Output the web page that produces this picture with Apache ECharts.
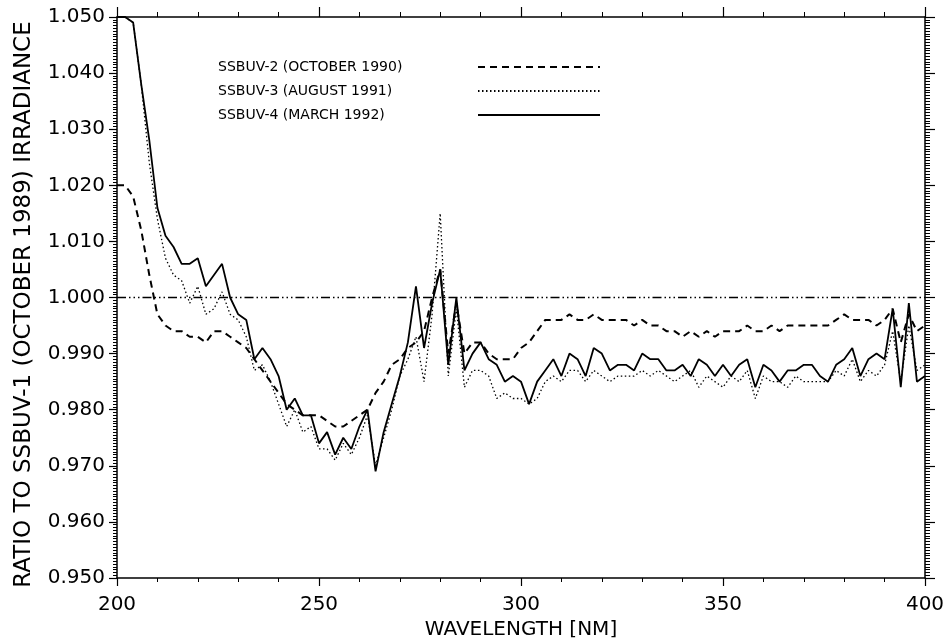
<!DOCTYPE html>
<html>
<head>
<meta charset="utf-8">
<script src="https://cdn.jsdelivr.net/npm/echarts@6/dist/echarts.min.js"></script>
<style>
  html, body { margin: 0; padding: 0; background: #fff; }
  #chart { width: 947px; height: 640px; }
</style>
</head>
<body>
<div id="chart"></div>
<script>
(function() {
// wavelength grid [nm]
const wavelengths = [
  200,202,204,206,208,210,212,214,216,218,220,222,224,226,228,230,232,234,236,238,
  240,242,244,246,248,250,252,254,256,258,260,262,264,266,268,270,272,274,276,278,
  280,282,284,286,288,290,292,294,296,298,300,302,304,306,308,310,312,314,316,318,
  320,322,324,326,328,330,332,334,336,338,340,342,344,346,348,350,352,354,356,358,
  360,362,364,366,368,370,372,374,376,378,380,382,384,386,388,390,392,394,396,398,400
];

// SSBUV-2 (October 1990), dashed
const ssbuv2 = [
  1.020,1.020,1.018,1.012,1.004,0.997,0.995,0.994,0.994,0.993,0.993,0.992,0.994,0.994,0.993,0.992,0.991,0.989,0.987,0.985,
  0.983,0.981,0.980,0.979,0.979,0.979,0.978,0.977,0.977,0.978,0.979,0.980,0.983,0.985,0.988,0.989,0.991,0.992,0.994,1.000,
  1.005,0.990,0.999,0.990,0.992,0.992,0.990,0.989,0.989,0.989,0.991,0.992,0.994,0.996,0.996,0.996,0.997,0.996,0.996,0.997,
  0.996,0.996,0.996,0.996,0.995,0.996,0.995,0.995,0.994,0.994,0.993,0.994,0.993,0.994,0.993,0.994,0.994,0.994,0.995,0.994,
  0.994,0.995,0.994,0.995,0.995,0.995,0.995,0.995,0.995,0.996,0.997,0.996,0.996,0.996,0.995,0.996,0.998,0.992,0.997,0.994,0.995
];

// SSBUV-3 (August 1991), dotted
const ssbuv3 = [
  1.050,1.050,1.049,1.038,1.024,1.014,1.007,1.004,1.003,0.999,1.002,0.997,0.998,1.001,0.997,0.996,0.993,0.987,0.988,0.985,
  0.981,0.977,0.980,0.976,0.977,0.973,0.973,0.971,0.974,0.972,0.975,0.979,0.970,0.975,0.980,0.986,0.989,0.993,0.985,0.997,
  1.015,0.986,0.998,0.984,0.987,0.987,0.986,0.982,0.983,0.982,0.982,0.981,0.982,0.985,0.986,0.985,0.987,0.987,0.985,0.987,
  0.986,0.985,0.986,0.986,0.986,0.987,0.986,0.987,0.986,0.985,0.986,0.987,0.984,0.986,0.985,0.984,0.986,0.985,0.987,0.982,
  0.986,0.985,0.985,0.984,0.986,0.985,0.985,0.985,0.985,0.987,0.986,0.989,0.985,0.987,0.986,0.988,0.994,0.985,0.995,0.987,0.988
];

// SSBUV-4 (March 1992), solid
const ssbuv4 = [
  1.050,1.050,1.049,1.038,1.028,1.016,1.011,1.009,1.006,1.006,1.007,1.002,1.004,1.006,1.000,0.997,0.996,0.989,0.991,0.989,
  0.986,0.980,0.982,0.979,0.979,0.974,0.976,0.972,0.975,0.973,0.977,0.980,0.969,0.976,0.981,0.986,0.992,1.002,0.991,0.999,
  1.005,0.988,1.000,0.987,0.990,0.992,0.989,0.988,0.985,0.986,0.985,0.981,0.985,0.987,0.989,0.986,0.990,0.989,0.986,0.991,
  0.990,0.987,0.988,0.988,0.987,0.990,0.989,0.989,0.987,0.987,0.988,0.986,0.989,0.988,0.986,0.988,0.986,0.988,0.989,0.984,
  0.988,0.987,0.985,0.987,0.987,0.988,0.988,0.986,0.985,0.988,0.989,0.991,0.986,0.989,0.990,0.989,0.998,0.984,0.999,0.985,0.986
];

const referenceRatio = 1.000;

const pairs = (vals) => vals.map((v, i) => [wavelengths[i], v]);
const FONT = 'DejaVu Sans';

const X_RANGE = { min: 200, max: 400, interval: 50 };
const Y_RANGE = { min: 0.95, max: 1.05, interval: 0.01 };

function frameAxis(extra, minorSplit, tickLen) {
  return Object.assign({
    type: 'value',
    axisLine: { show: true, onZero: false, lineStyle: { color: '#000', width: 1.5 } },
    axisTick: { show: true, inside: false, length: tickLen, lineStyle: { color: '#000', width: 1.2 } },
    minorTick: { show: true, splitNumber: minorSplit, length: Math.round(tickLen / 2), lineStyle: { color: '#000', width: 1 } },
    axisLabel: { show: false },
    splitLine: { show: false },
    minorSplitLine: { show: false }
  }, extra);
}

const option = {
  backgroundColor: '#fff',
  animation: false,
  grid: { left: 117, right: 22, top: 17, bottom: 62, outerBoundsMode: 'none', containLabel: false },
  legend: {
    orient: 'vertical',
    left: 213,
    top: 55,
    align: 'right',
    itemWidth: 122,
    itemHeight: 14,
    itemGap: 10,
    itemStyle: { opacity: 0 },
    formatter: (name) => '{t|' + name + '}',
    textStyle: {
      fontFamily: FONT, fontSize: 14, color: '#000',
      rich: { t: { width: 255, align: 'left', fontFamily: FONT, fontSize: 14, color: '#000' } }
    },
    data: ['SSBUV-2 (OCTOBER 1990)', 'SSBUV-3 (AUGUST 1991)', 'SSBUV-4 (MARCH 1992)']
  },
  xAxis: [
    frameAxis(Object.assign({
      position: 'bottom',
      axisLabel: { show: true, color: '#000', fontFamily: FONT, fontSize: 20, margin: 17 },
      name: 'WAVELENGTH [NM]',
      nameLocation: 'middle',
      nameGap: 32,
      nameTextStyle: { color: '#000', fontFamily: FONT, fontSize: 20 }
    }, X_RANGE), 5, 8),
    frameAxis(Object.assign({ position: 'top' }, X_RANGE), 5, 10)
  ],
  yAxis: [
    frameAxis(Object.assign({
      position: 'left',
      axisLabel: {
        show: true, color: '#000', fontFamily: FONT, fontSize: 20, margin: 12,
        formatter: (v) => v.toFixed(3)
      },
      name: 'RATIO TO SSBUV-1 (OCTOBER 1989) IRRADIANCE',
      nameLocation: 'middle',
      nameGap: 81,
      nameTextStyle: { color: '#000', fontFamily: FONT, fontSize: 23, padding: [0, 14, 0, 0] }
    }, Y_RANGE), 20, 8),
    frameAxis(Object.assign({ position: 'right' }, Y_RANGE), 20, 10)
  ],
  series: [
    {
      name: 'SSBUV-2 (OCTOBER 1990)',
      type: 'line',
      data: pairs(ssbuv2),
      symbol: 'none',
      lineStyle: { color: '#000', width: 2, type: [7, 5] },
      itemStyle: { color: '#000' },
      markLine: {
        silent: true,
        symbol: 'none',
        label: { show: false },
        lineStyle: { color: '#000', width: 1.3, type: [9, 3, 1.5, 3, 1.5, 3, 1.5, 3] },
        data: [{ yAxis: referenceRatio }]
      }
    },
    {
      name: 'SSBUV-3 (AUGUST 1991)',
      type: 'line',
      data: pairs(ssbuv3),
      symbol: 'none',
      lineStyle: { color: '#000', width: 1.3, type: [1.5, 2.5] },
      itemStyle: { color: '#000' }
    },
    {
      name: 'SSBUV-4 (MARCH 1992)',
      type: 'line',
      data: pairs(ssbuv4),
      symbol: 'none',
      lineStyle: { color: '#000', width: 1.8 },
      itemStyle: { color: '#000' }
    }
  ]
};

const chart = echarts.init(document.getElementById('chart'));
chart.setOption(option);
window.addEventListener('resize', () => chart.resize());
})();
</script>
</body>
</html>
